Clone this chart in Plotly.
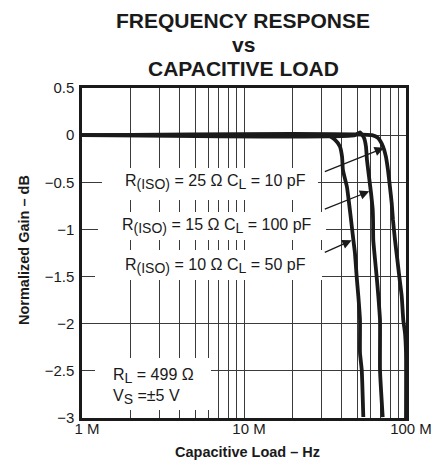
import plotly.graph_objects as go

# ---------------- data ----------------
HZ_PER_MHZ = 1e6

# R(ISO)=10 ohm, CL=50 pF  (left-most roll-off)
freq_50pf_mhz = [1, 30.3, 33.0, 36.5, 39.1, 40.3, 40.8, 43.2, 44.5, 45.8, 47.3, 48.4,
                 49.6, 50.8, 52.0, 52.0, 53.3, 54.5]
gain_50pf_db = [0, 0, 0, -0.05, -0.12, -0.23, -0.37, -0.55, -0.72, -0.90, -1.11, -1.25,
                -1.50, -1.71, -1.96, -2.31, -2.49, -2.99]

# R(ISO)=15 ohm, CL=100 pF (middle)
freq_100pf_mhz = [1, 48.4, 52.0, 55.1, 56.6, 57.4, 59.1, 60.8, 62.3, 62.6, 62.8, 64.4,
                  65.9, 67.5, 69.1, 69.1, 71.8]
gain_100pf_db = [0, 0, 0.03, -0.03, -0.12, -0.26, -0.44, -0.61, -0.79, -0.90, -1.11, -1.32,
                 -1.50, -1.71, -1.96, -2.49, -2.99]

# R(ISO)=25 ohm, CL=10 pF  (right-most)
freq_10pf_mhz = [1, 61.7, 67.1, 72.1, 75.2, 77.4, 79.6, 81.6, 83.1, 85.5, 88.4, 90.9,
                 94.1, 96.2, 98.6, 100, 100]
gain_10pf_db = [0, 0, -0.03, -0.12, -0.23, -0.37, -0.55, -0.72, -0.90, -1.11, -1.32, -1.50,
                -1.71, -1.96, -2.10, -2.31, -3.0]

x_grid_mhz = [1, 2, 3, 4, 5, 6, 7, 8, 9, 10, 20, 30, 40, 50, 60, 70, 80, 90, 100]
x_tick_text = ["1 M", "", "", "", "", "", "", "", "", "10 M",
               "", "", "", "", "", "", "", "", "100 M"]
y_tick_vals = [0.5, 0, -0.5, -1, -1.5, -2, -2.5, -3]
y_tick_text = ["0.5", "0", "\u22120.5", "\u22121", "\u22121.5", "\u22122", "\u22122.5", "\u22123"]

title_lines = ["FREQUENCY RESPONSE", "vs", "CAPACITIVE LOAD"]

# ---------------- layout geometry (reference pixel coords) ----------------
W, H = 443, 470
OFF = 8  # default page margin of the html body
PL, PR, PT, PB = 82, 406, 88, 418
FONT = "Liberation Sans, Arial, Helvetica, sans-serif"
INK = "#1a1a1a"


def px(x):
    return (x - PL) / (PR - PL)


def py(y):
    return (PB - y) / (PB - PT)


def sub(s):
    return '<sub><span style="font-size:14px">' + s + '</span></sub>'


fig = go.Figure()
for fr, g in [(freq_50pf_mhz, gain_50pf_db), (freq_100pf_mhz, gain_100pf_db),
              (freq_10pf_mhz, gain_10pf_db)]:
    fig.add_trace(go.Scatter(
        x=[f * HZ_PER_MHZ for f in fr], y=g, mode="lines",
        line=dict(color=INK, width=3.8, shape="spline", smoothing=0.5),
        showlegend=False, hoverinfo="skip"))

# white boxes behind the text blocks (cover the grid)
boxes = [(102, 318, 168, 200), (98, 326, 212, 240), (95, 322, 250, 280), (95, 211, 358, 410)]
shapes = []
for x0, x1, y0, y1 in boxes:
    shapes.append(dict(type="rect", xref="paper", yref="paper",
                       x0=px(x0), x1=px(x1), y0=py(y1), y1=py(y0),
                       fillcolor="white", line=dict(width=0), layer="above"))

labels = [
    ("R" + sub("(ISO)") + " = 25 \u03a9 C" + sub("L") + " = 10 pF", 6.827, -0.50),
    ("R" + sub("(ISO)") + " = 15 \u03a9 C" + sub("L") + " = 100 pF", 6.833, -0.96),
    ("R" + sub("(ISO)") + " = 10 \u03a9 C" + sub("L") + " = 50 pF", 6.827, -1.385),
]
annotations = []
for t, x, y in labels:
    annotations.append(dict(text=t, x=x, y=y, xref="x", yref="y", showarrow=False,
                            xanchor="center", yanchor="middle",
                            font=dict(family=FONT, size=16, color=INK)))

annotations.append(dict(text="R" + sub("L") + " = 499 \u03a9<br>V" + sub("S") + " =\u00b15 V",
                        xref="paper", yref="paper", x=px(111), y=py(386),
                        showarrow=False, xanchor="left", yanchor="middle", align="left",
                        font=dict(family=FONT, size=16, color=INK)))

arrows = [((7.4895, -0.394), (7.8642, -0.135)),
          ((7.4895, -0.790), (7.7735, -0.596)),
          ((7.4895, -1.250), (7.6648, -1.116))]
for (tx, ty), (hx, hy) in arrows:
    annotations.append(dict(text="", x=hx, y=hy, ax=tx, ay=ty, xref="x", yref="y",
                            axref="x", ayref="y", showarrow=True, arrowhead=2,
                            arrowsize=1.45, arrowwidth=1.3, arrowcolor=INK,
                            standoff=0, startstandoff=0))

# title (three lines) and axis titles
for line, yc in zip(title_lines, [20, 44, 68]):
    annotations.append(dict(text="<b>" + line + "</b>",
                            xref="paper", yref="paper", x=px(243), y=py(yc),
                            xanchor="center", yanchor="middle", showarrow=False,
                            font=dict(family=FONT, size=21, color=INK)))
annotations.append(dict(text="<b>Capacitive Load \u2013 Hz</b>",
                        xref="paper", yref="paper", x=px(247), y=py(452),
                        xanchor="center", yanchor="middle", showarrow=False,
                        font=dict(family=FONT, size=14.5, color=INK)))
annotations.append(dict(text="<b>Normalized Gain \u2013 dB</b>", textangle=-90,
                        xref="paper", yref="paper", x=px(24), y=py(250),
                        xanchor="center", yanchor="middle", showarrow=False,
                        font=dict(family=FONT, size=14.5, color=INK)))

fig.update_layout(
    width=W - OFF, height=H - OFF,
    margin=dict(l=PL - OFF, r=W - PR, t=PT - OFF, b=H - PB, autoexpand=False),
    paper_bgcolor="white", plot_bgcolor="white",
    font=dict(family=FONT, size=15, color=INK),
    xaxis=dict(type="log", range=[6, 8], automargin=False,
               tickvals=[f * HZ_PER_MHZ for f in x_grid_mhz], ticktext=x_tick_text,
               showgrid=True, gridcolor="#3a3a3a", gridwidth=1,
               showline=True, mirror=True, linecolor=INK, linewidth=2.5,
               ticks="", ticklabelstandoff=-5, ticklabelshift=5,
               tickfont=dict(size=15), zeroline=False),
    yaxis=dict(range=[-3, 0.5], automargin=False,
               tickvals=y_tick_vals, ticktext=y_tick_text,
               showgrid=True, gridcolor="#3a3a3a", gridwidth=1,
               showline=True, mirror=True, linecolor=INK, linewidth=2.5,
               ticks="", ticklabelstandoff=2, tickfont=dict(size=15),
               zeroline=False),
    shapes=shapes,
    annotations=annotations,
)

fig.write_html("out.html")
